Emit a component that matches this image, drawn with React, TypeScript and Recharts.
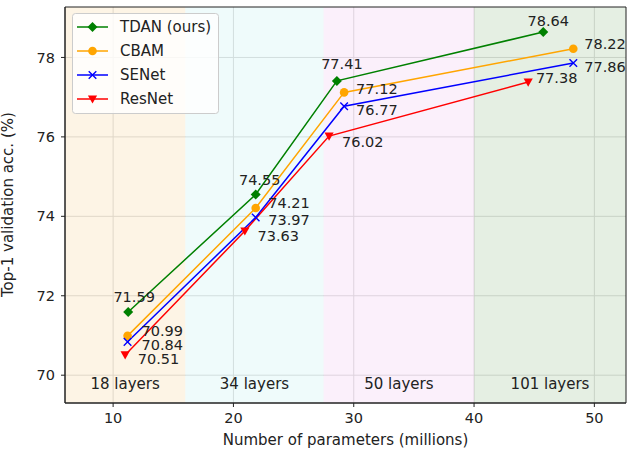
import React from "react";
import {
  LineChart,
  Line,
  XAxis,
  YAxis,
  CartesianGrid,
  ReferenceArea,
} from "recharts";

// ---- data ----
const xTicks = [10, 20, 30, 40, 50];
const yTicks = [70, 72, 74, 76, 78];

const tdanParams = [11.25, 21.85, 28.6, 45.75];
const tdanAcc = [71.59, 74.55, 77.41, 78.64];
const cbamParams = [11.2, 21.85, 29.2, 48.25];
const cbamAcc = [70.99, 74.21, 77.12, 78.22];
const senetParams = [11.2, 21.85, 29.2, 48.25];
const senetAcc = [70.84, 73.97, 76.77, 77.86];
const resnetParams = [11.0, 20.95, 27.95, 44.5];
const resnetAcc = [70.51, 73.63, 76.02, 77.38];

const bandNames = ["18 layers", "34 layers", "50 layers", "101 layers"];
const bandStarts = [6, 16, 27.5, 40];
const bandEnds = [16, 27.5, 40, 52.63];

// ---- style ----
const X_MIN = 6;
const X_MAX = 52.63;
const Y_MIN = 69.3;
const Y_MAX = 79.27;
const FONT = "DejaVu Sans, sans-serif";
const bandFills = ["#fbe9cb", "#dff7f7", "#f7e1f7", "#cbdfc7"];

const toRows = (xs: number[], ys: number[]) => xs.map((x, i) => ({ x, y: ys[i] }));

type LabelStyle = { anchor: "start" | "middle"; dx: number[]; dy: number[] };

const series = [
  {
    name: "TDAN (ours)",
    color: "#008000",
    marker: "diamond",
    data: toRows(tdanParams, tdanAcc),
    label: { anchor: "middle", dx: [6, 4, 5, 5], dy: [-10.5, -9.5, -11.5, -6.5] } as LabelStyle,
  },
  {
    name: "CBAM",
    color: "#ffa500",
    marker: "circle",
    data: toRows(cbamParams, cbamAcc),
    label: { anchor: "start", dx: [14, 12.5, 12, 11], dy: [0, 0.5, 1.5, 0] } as LabelStyle,
  },
  {
    name: "SENet",
    color: "#0000ff",
    marker: "x",
    data: toRows(senetParams, senetAcc),
    label: { anchor: "start", dx: [14, 12.5, 12, 11], dy: [8, 7.8, 8.5, 8.8] } as LabelStyle,
  },
  {
    name: "ResNet",
    color: "#ff0000",
    marker: "tri",
    data: toRows(resnetParams, resnetAcc),
    label: { anchor: "start", dx: [12.6, 12.6, 13, 7.7], dy: [9.5, 10.3, 10.7, 1.3] } as LabelStyle,
  },
];

function Marker({ kind, cx, cy, color }: { kind: string; cx: number; cy: number; color: string }) {
  if (kind === "diamond") {
    const r = 5;
    return <path d={`M${cx},${cy - r}L${cx + r},${cy}L${cx},${cy + r}L${cx - r},${cy}Z`} fill={color} />;
  }
  if (kind === "circle") {
    return <circle cx={cx} cy={cy} r={4.3} fill={color} />;
  }
  if (kind === "x") {
    const r = 3.8;
    return (
      <path
        d={`M${cx - r},${cy - r}L${cx + r},${cy + r}M${cx - r},${cy + r}L${cx + r},${cy - r}`}
        stroke={color}
        strokeWidth={1.4}
        fill="none"
      />
    );
  }
  const w = 4.6;
  return <path d={`M${cx - w},${cy - 3.6}L${cx + w},${cy - 3.6}L${cx},${cy + 4.6}Z`} fill={color} />;
}

function LegendBox() {
  return (
    <svg
      width={148}
      height={102}
      style={{ position: "absolute", left: 72, top: 13, overflow: "visible" }}
    >
      <rect x={0.5} y={0.5} width={146} height={100} rx={3} ry={3} fill="rgba(255,255,255,0.8)" stroke="#cccccc" />
      {series.map((s, i) => {
        const cy = 14 + i * 24;
        return (
          <g key={s.name}>
            <line x1={5} x2={36} y1={cy} y2={cy} stroke={s.color} strokeWidth={1.5} />
            <Marker kind={s.marker} cx={20.5} cy={cy} color={s.color} />
            <text x={48} y={cy + 5.3} fontSize={15} fontFamily={FONT} fill="#222">
              {s.name}
            </text>
          </g>
        );
      })}
    </svg>
  );
}

export default function App() {
  return (
    <div style={{ position: "absolute", left: 0, top: 0, width: 637, height: 449, background: "#fff" }}>
      <LineChart
        width={637}
        height={449}
        margin={{ top: 7, right: 11, bottom: 0, left: 0 }}
        style={{ fontFamily: FONT }}
      >
        <CartesianGrid stroke="#c4c4c4" strokeWidth={1} horizontalValues={yTicks} verticalValues={xTicks} />
        {bandNames.map((n, i) => (
          <ReferenceArea
            key={n}
            x1={bandStarts[i]}
            x2={bandEnds[i]}
            y1={Y_MIN}
            y2={Y_MAX}
            fill={bandFills[i]}
            fillOpacity={0.5}
            stroke="none"
            ifOverflow="visible"
            label={{
              value: n,
              position: "insideBottom",
              offset: 14.5,
              fill: "#222",
              fontSize: 15,
              fontFamily: FONT,
            }}
          />
        ))}
        <ReferenceArea
          x1={X_MIN}
          x2={X_MAX}
          y1={Y_MIN}
          y2={Y_MAX}
          fill="none"
          stroke="#222"
          strokeWidth={1}
          ifOverflow="visible"
        />
        <XAxis
          type="number"
          dataKey="x"
          domain={[X_MIN, X_MAX]}
          ticks={xTicks}
          allowDataOverflow
          height={46}
          tickSize={4}
          tickMargin={6}
          axisLine={{ stroke: "#222" }}
          tickLine={{ stroke: "#222" }}
          tick={{ fill: "#222", fontSize: 14.5, fontFamily: FONT }}
          label={{
            value: "Number of parameters (millions)",
            position: "insideBottom",
            offset: 4,
            fill: "#222",
            fontSize: 15,
            fontFamily: FONT,
          }}
        />
        <YAxis
          type="number"
          dataKey="y"
          domain={[Y_MIN, Y_MAX]}
          ticks={yTicks}
          allowDataOverflow
          width={65}
          tickSize={4}
          tickMargin={6}
          axisLine={{ stroke: "#222" }}
          tickLine={{ stroke: "#222" }}
          tick={{ fill: "#222", fontSize: 14.5, fontFamily: FONT }}
          label={{
            value: "Top-1 validation acc. (%)",
            angle: -90,
            position: "insideLeft",
            offset: 8,
            dy: 92,
            fill: "#222",
            fontSize: 15,
            fontFamily: FONT,
          }}
        />
        {series.map((s) => (
          <Line
            key={s.name}
            data={s.data}
            dataKey="y"
            name={s.name}
            stroke={s.color}
            strokeWidth={1.5}
            isAnimationActive={false}
            dot={(p: any) => (
              <Marker key={`${s.name}-${p.index}`} kind={s.marker} cx={p.cx} cy={p.cy} color={s.color} />
            )}
            activeDot={false}
            label={(p: any) => (
              <text
                key={`${s.name}-l-${p.index}`}
                x={p.x + s.label.dx[p.index]}
                y={p.y + s.label.dy[p.index]}
                textAnchor={s.label.anchor}
                fontSize={14.5}
                fontFamily={FONT}
                fill="#222"
              >
                {p.value}
              </text>
            )}
          />
        ))}
      </LineChart>
      <LegendBox />
    </div>
  );
}
